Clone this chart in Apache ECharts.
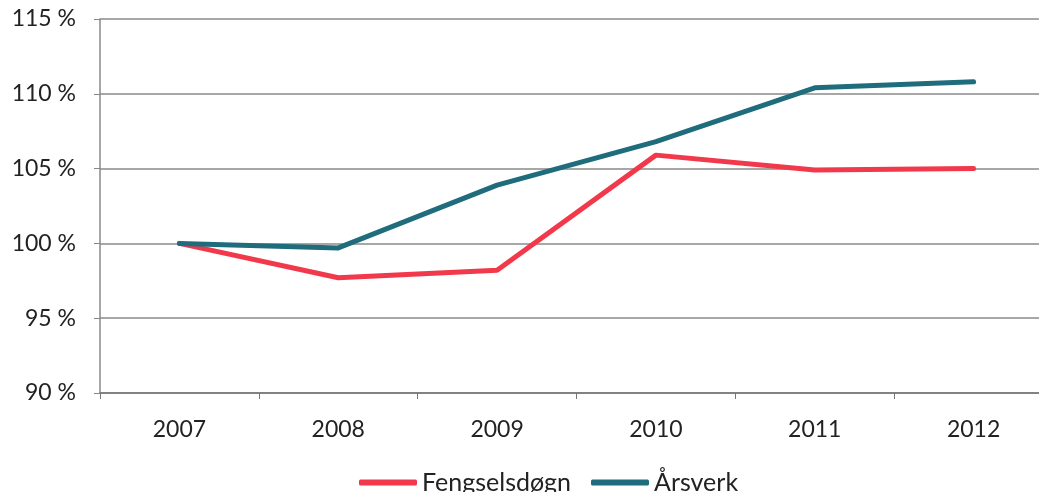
<!DOCTYPE html>
<html>
<head>
<meta charset="utf-8">
<script src="https://cdn.jsdelivr.net/npm/echarts@6/dist/echarts.min.js"></script>
<style>
  html, body { margin: 0; padding: 0; background: #fff; }
  #main { width: 1039px; height: 492px; }
</style>
</head>
<body>
<div id="main"></div>
<script>
var dom = document.getElementById("main");
var myChart = echarts.init(dom);

var years = ['2007', '2008', '2009', '2010', '2011', '2012'];
var fengselsdogn = [100, 97.7, 98.2, 105.9, 104.9, 105.0];
var arsverk = [100, 99.7, 103.9, 106.8, 110.4, 110.8];
var seriesNames = ['Fengselsdøgn', 'Årsverk'];

var font = 'Lato, "Open Sans", sans-serif';

var option = {
    animation: false,
    backgroundColor: '#ffffff',
    grid: {
        left: 100,
        width: 953,
        top: 19,
        bottom: 99,
        containLabel: false,
        outerBoundsMode: 'none'
    },
    legend: {
        data: seriesNames,
        bottom: -8,
        left: 354,
        itemWidth: 58,
        itemHeight: 6,
        itemGap: 20,
        icon: 'roundRect',
        textStyle: { fontFamily: font, fontSize: 25, color: '#222' }
    },
    xAxis: {
        type: 'category',
        data: years,
        boundaryGap: true,
        axisLine: { lineStyle: { color: '#777', width: 1.5 } },
        axisTick: { show: true, length: 6, lineStyle: { color: '#777' } },
        axisLabel: { fontFamily: font, fontSize: 23, color: '#222', margin: 25 }
    },
    yAxis: {
        type: 'value',
        min: 90,
        max: 115,
        interval: 5,
        axisLine: { show: true, lineStyle: { color: '#888', width: 1.5 } },
        axisTick: { show: true, length: 6, lineStyle: { color: '#888' } },
        axisLabel: {
            fontFamily: font, fontSize: 23, color: '#222', margin: 24,
            formatter: function (v) { return v + ' %'; }
        },
        splitLine: { lineStyle: { color: '#8a8a8a', width: 1.5 } }
    },
    series: [{
        name: seriesNames[0],
        type: 'line',
        data: fengselsdogn,
        symbol: 'none',
        color: '#f2394b',
        lineStyle: { width: 5, color: '#f2394b', cap: 'round', join: 'round' }
    }, {
        name: seriesNames[1],
        type: 'line',
        data: arsverk,
        symbol: 'none',
        color: '#1f6d7c',
        lineStyle: { width: 5, color: '#1f6d7c', cap: 'round', join: 'round' }
    }]
};

if (option && typeof option === "object") {
    myChart.setOption(option, true);
}
</script>
</body>
</html>
